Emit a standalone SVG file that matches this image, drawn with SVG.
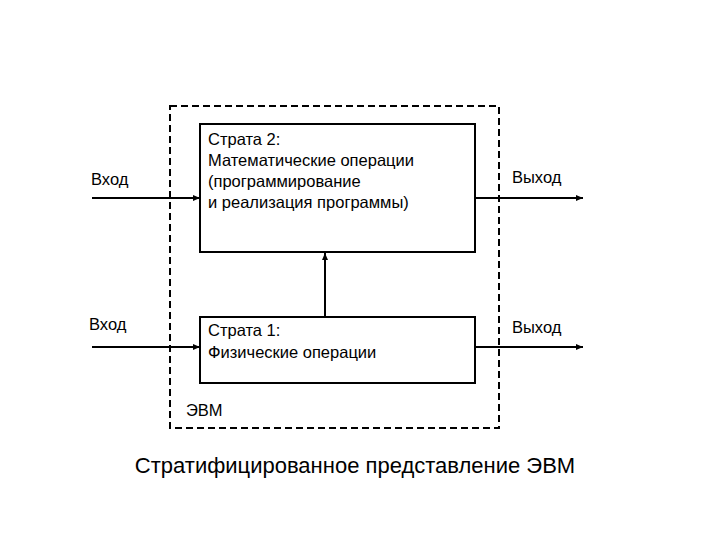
<svg xmlns="http://www.w3.org/2000/svg" width="720" height="540" viewBox="0 0 720 540">
<style>
text{font-family:"Liberation Sans",Arial,sans-serif;fill:#000}
.t{font-size:16.5px}
.b{fill:#fff;stroke:#000;stroke-width:2}
.c{stroke:#000;stroke-width:2;fill:none}
</style>
<defs><marker id="a" markerWidth="8" markerHeight="8" refX="7" refY="4" orient="auto" markerUnits="userSpaceOnUse"><path d="M0,1 L7,4 L0,7 Z" fill="#000"/></marker></defs>
<rect width="720" height="540" fill="#fff"/>
<g id="evm"><rect x="170" y="106" width="329" height="322" fill="none" stroke="#000" stroke-width="2" stroke-dasharray="7,4"/><text class="t" x="186" y="416">ЭВМ</text></g>
<g id="connectors">
<line class="c" x1="92" y1="198" x2="200" y2="198" marker-end="url(#a)"/>
<line class="c" x1="92" y1="347" x2="200" y2="347" marker-end="url(#a)"/>
<line class="c" x1="475" y1="198" x2="583" y2="198" marker-end="url(#a)"/>
<line class="c" x1="475" y1="347" x2="583" y2="347" stroke-width="1.3" marker-end="url(#a)"/>
<line class="c" x1="325" y1="317" x2="325" y2="253" marker-end="url(#a)"/>
</g>
<g id="s2"><rect class="b" x="200" y="124" width="275" height="128"/>
<text class="t" x="208" y="145">Страта 2:</text><text class="t" x="208" y="166">Математические операции</text><text class="t" x="208" y="187">(программирование</text><text class="t" x="208" y="208">и реализация программы)</text></g>
<g id="s1"><rect class="b" x="200" y="317" width="275" height="66"/>
<text class="t" x="208" y="336">Страта 1:</text><text class="t" x="208" y="358">Физические операции</text></g>
<g id="labels">
<text class="t" x="91" y="185">Вход</text><text class="t" x="89" y="330">Вход</text>
<text class="t" x="512" y="183">Выход</text><text class="t" x="512" y="333">Выход</text>
</g>
<text x="355" y="473" font-size="22" text-anchor="middle">Стратифицированное представление ЭВМ</text>
</svg>
